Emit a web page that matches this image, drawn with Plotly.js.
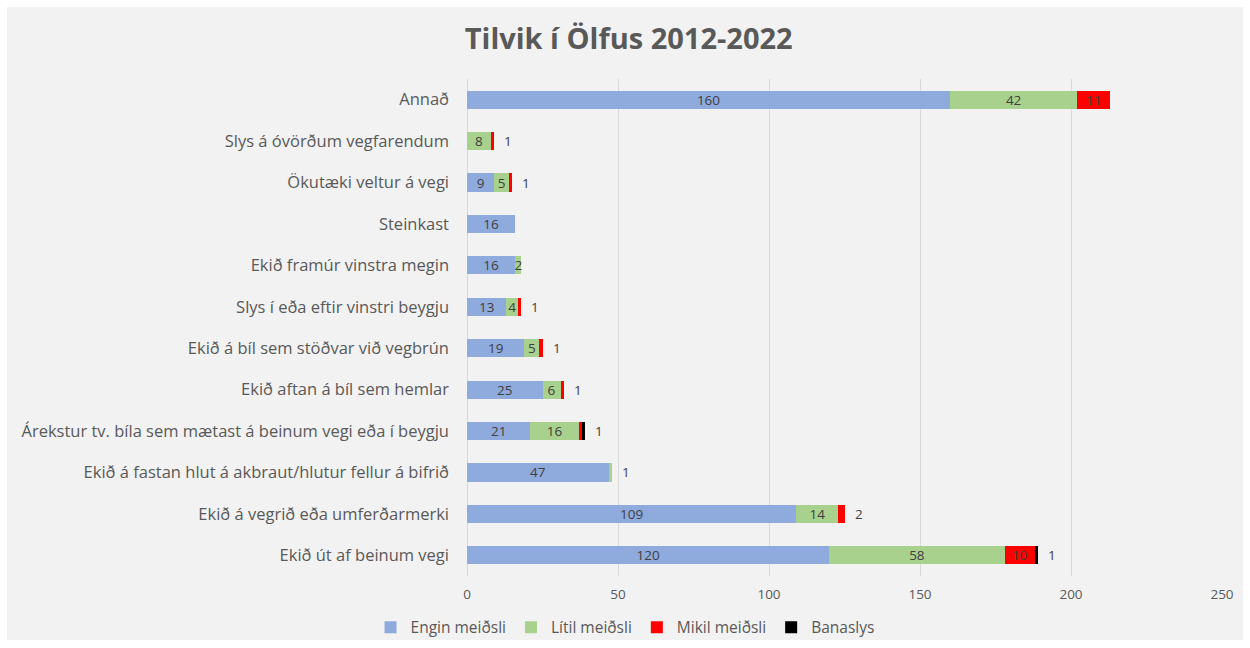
<!DOCTYPE html>
<html>
<head>
<meta charset="utf-8">
<script src="https://cdn.plot.ly/plotly-3.0.1.min.js"></script>
<style>
html,body{margin:0;padding:0;background:#ffffff;}
#chart{position:absolute;left:7px;top:7px;width:1236px;height:633px;}
</style>
</head>
<body>
<div id="chart"></div>
<script>
const categories = [
  "Annað",
  "Slys á óvörðum vegfarendum",
  "Ökutæki veltur á vegi",
  "Steinkast",
  "Ekið framúr vinstra megin",
  "Slys í eða eftir vinstri beygju",
  "Ekið á bíl sem stöðvar við vegbrún",
  "Ekið aftan á bíl sem hemlar",
  "Árekstur tv. bíla sem mætast á beinum vegi eða í beygju",
  "Ekið á fastan hlut á akbraut/hlutur fellur á bifrið",
  "Ekið á vegrið eða umferðarmerki",
  "Ekið út af beinum vegi"
];
const engin = [160, 0, 9, 16, 16, 13, 19, 25, 21, 47, 109, 120];
const litil = [42, 8, 5, 0, 2, 4, 5, 6, 16, 1, 14, 58];
const mikil = [11, 1, 1, 0, 0, 1, 1, 1, 1, 0, 2, 10];
const bana  = [0, 0, 0, 0, 0, 0, 0, 0, 1, 0, 0, 1];
const outsideLabels = ["", "1", "1", "", "", "1", "1", "1", "1", "1", "2", "1"];
const seriesNames = ["Engin meiðsli", "Lítil meiðsli", "Mikil meiðsli", "Banaslys"];
const seriesColors = ["#8faadc", "#a9d18e", "#ff0000", "#000000"];
const minInside = [2, 2, 10, 10];

const FONT = "Open Sans, Liberation Sans, sans-serif";
const series = [engin, litil, mikil, bana];
const traces = series.map((vals, i) => ({
  type: "bar",
  orientation: "h",
  name: seriesNames[i],
  y: categories,
  x: vals,
  marker: {color: seriesColors[i]},
  text: vals.map(v => v >= minInside[i] ? String(v) : ""),
  textposition: "inside",
  insidetextanchor: "middle",
  textangle: 0,
  constraintext: "none",
  textfont: {family: FONT, size: 13.5, color: "#404040"},
  hoverinfo: "x+name"
}));

const totals = categories.map((c, k) => engin[k] + litil[k] + mikil[k] + bana[k]);
const annotations = categories.map((c, k) => ({
  x: totals[k], y: c, xref: "x", yref: "y",
  text: outsideLabels[k], showarrow: false,
  xanchor: "left", xshift: 8,
  font: {family: FONT, size: 13.5, color: "#404040"}
}));

const layout = {
  barmode: "stack",
  bargap: 0.56,
  paper_bgcolor: "#f2f2f2",
  plot_bgcolor: "#f2f2f2",
  margin: {l: 460, r: 21, t: 72, b: 64, pad: 0, autoexpand: false},
  title: {
    text: "<b>Tilvik í Ölfus 2012-2022</b>",
    font: {family: FONT, size: 29, color: "#595959"},
    x: 0.503, xanchor: "center", y: 0.95, yanchor: "middle"
  },
  xaxis: {
    range: [0, 250],
    tickvals: [0, 50, 100, 150, 200, 250],
    showgrid: true, gridcolor: "#d9d9d9", gridwidth: 1,
    zeroline: true, zerolinecolor: "#d9d9d9", zerolinewidth: 1,
    showline: false,
    tickfont: {family: FONT, size: 13.5, color: "#595959"},
    ticks: "", ticklen: 0,
    ticklabelstandoff: 8,
    automargin: false,
    fixedrange: true
  },
  yaxis: {
    type: "category",
    autorange: "reversed",
    showgrid: false,
    showline: false,
    ticks: "",
    ticklabelstandoff: 17,
    tickfont: {family: FONT, size: 16.5, color: "#595959"},
    automargin: false,
    fixedrange: true
  },
  showlegend: true,
  legend: {
    orientation: "h",
    x: 0.2093, xanchor: "center",
    y: -0.104, yanchor: "middle",
    font: {family: FONT, size: 15.5, color: "#595959"},
    traceorder: "normal",
    bgcolor: "rgba(0,0,0,0)",
    itemwidth: 30
  },
  annotations: annotations
};

Plotly.newPlot("chart", traces, layout, {displayModeBar: false, staticPlot: true});
</script>
</body>
</html>
